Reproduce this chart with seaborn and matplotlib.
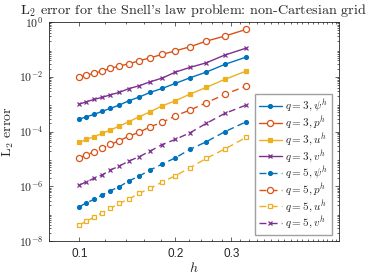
import matplotlib
matplotlib.use("Agg")
import matplotlib.pyplot as plt
import matplotlib.ticker as mticker
import numpy as np
import pandas as pd
import seaborn as sns

# grid sizes h = 2/n, n = 20 ... 6
h = [0.1, 0.10526, 0.11111, 0.11765, 0.125, 0.13333, 0.14286, 0.15385,
     0.16667, 0.18182, 0.2, 0.22222, 0.25, 0.28571, 0.33333]

# q = 3
psi3 = [2.86e-4, 3.48e-4, 4.25e-4, 5.47e-4, 7.03e-4, 9.29e-4, 1.33e-3, 1.82e-3,
        2.70e-3, 3.78e-3, 5.77e-3, 9.23e-3, 1.49e-2, 2.85e-2, 5.26e-2]
p3 = [1.00e-2, 1.16e-2, 1.34e-2, 1.62e-2, 2.04e-2, 2.47e-2, 3.00e-2, 3.85e-2,
      4.97e-2, 6.61e-2, 8.93e-2, 1.25e-1, 2.02e-1, 3.08e-1, 5.41e-1]
u3 = [4.03e-5, 5.19e-5, 6.46e-5, 8.59e-5, 1.135e-4, 1.59e-4, 2.28e-4, 3.48e-4,
      5.28e-4, 8.75e-4, 1.33e-3, 2.34e-3, 4.12e-3, 8.07e-3, 1.62e-2]
v3 = [1.01e-3, 1.23e-3, 1.50e-3, 1.77e-3, 2.21e-3, 2.70e-3, 3.72e-3, 4.71e-3,
      6.59e-3, 9.0e-3, 1.49e-2, 2.21e-2, 3.26e-2, 6.24e-2, 1.12e-1]
# q = 5
psi5 = [1.79e-7, 2.51e-7, 3.33e-7, 4.79e-7, 6.87e-7, 9.64e-7, 1.56e-6, 2.37e-6,
        3.93e-6, 6.50e-6, 1.10e-5, 2.24e-5, 4.24e-5, 9.84e-5, 2.28e-4]
p5 = [1.10e-5, 1.39e-5, 1.83e-5, 2.43e-5, 3.40e-5, 4.61e-5, 6.85e-5, 9.35e-5,
      1.50e-4, 2.17e-4, 3.78e-4, 6.10e-4, 1.13e-3, 2.29e-3, 4.59e-3]
u5 = [3.84e-8, 5.38e-8, 7.35e-8, 1.08e-7, 1.56e-7, 2.38e-7, 3.42e-7, 5.52e-7,
      8.41e-7, 1.43e-6, 2.43e-6, 4.76e-6, 1.05e-5, 2.30e-5, 6.14e-5]
v5 = [1.11e-6, 1.47e-6, 1.95e-6, 2.58e-6, 3.93e-6, 5.50e-6, 8.36e-6, 1.20e-5,
      1.94e-5, 3.35e-5, 5.19e-5, 9.03e-5, 1.99e-4, 4.61e-4, 9.29e-4]

labels = [r"$q = 3, \psi^h$", r"$q = 3, p^h$", r"$q = 3, u^h$", r"$q = 3, v^h$",
          r"$q = 5, \psi^h$", r"$q = 5, p^h$", r"$q = 5, u^h$", r"$q = 5, v^h$"]
series = [psi3, p3, u3, v3, psi5, p5, u5, v5]

sns.set_style("ticks")
plt.rcParams["font.family"] = ["Liberation Sans", "DejaVu Sans"]
plt.rcParams["mathtext.fontset"] = "cm"

blue, orange, yellow, purple = "#0072BD", "#D95319", "#EDB120", "#7E2F8E"
cols = [blue, orange, yellow, purple] * 2
marks = ["o", "o", "s", "x"] * 2
faces = [blue, "white", yellow, purple, blue, "white", "white", purple]
sizes = [2.8, 4.4, 3.2, 3.4] * 2

fig = plt.figure(figsize=(3.74, 2.80), dpi=100)
ax = fig.add_axes([0.1297, 0.139, 0.7754, 0.782])

for i, (lab, err) in enumerate(zip(labels, series)):
    df = pd.DataFrame({"h": h, "err": err})
    ls = "-" if i < 4 else (0, (5, 3))
    sns.lineplot(data=df, x="h", y="err", ax=ax, color=cols[i], marker=marks[i],
                 markersize=sizes[i], markerfacecolor=faces[i],
                 markeredgecolor=cols[i], markeredgewidth=0.9, linewidth=1.0,
                 linestyle=ls, label=lab, sort=False)

ax.set_xscale("log")
ax.set_yscale("log")
ax.set_xlim(0.08, 0.65)
ax.set_ylim(1e-8, 1)

ax.xaxis.set_major_locator(mticker.FixedLocator([0.1, 0.2, 0.3]))
ax.xaxis.set_major_formatter(mticker.FixedFormatter(["0.1", "0.2", "0.3"]))
ax.xaxis.set_minor_locator(mticker.FixedLocator(np.arange(0.08, 0.651, 0.02)))
ax.xaxis.set_minor_formatter(mticker.NullFormatter())

ax.yaxis.set_major_locator(mticker.FixedLocator([1e-8, 1e-6, 1e-4, 1e-2, 1]))
ax.yaxis.set_major_formatter(mticker.FuncFormatter(
    lambda v, pos: r"$\mathsf{10^{%d}}$" % round(np.log10(v))))
ax.yaxis.set_minor_locator(mticker.LogLocator(base=10, subs=np.arange(2, 10), numticks=20))
ax.yaxis.set_minor_formatter(mticker.NullFormatter())

ax.tick_params(which="both", direction="in", top=True, right=True,
               colors="#262626", labelsize=8.5, width=0.5)
ax.tick_params(which="major", length=3)
ax.tick_params(which="minor", length=1.5)
ax.tick_params(axis="x", which="major", pad=5)
for s in ax.spines.values():
    s.set_color("#262626")
    s.set_linewidth(0.6)

ax.set_title("L$_2$ error for the Snell's law problem: non-Cartesian grid",
             family="cmr10", fontsize=10.2, pad=6)
ax.set_xlabel(r"$h$", fontsize=10, labelpad=1)
ax.set_ylabel("L$_2$ error", family="cmr10", fontsize=10, labelpad=2)

leg = ax.legend(loc="lower right", bbox_to_anchor=(0.978, 0.027), borderaxespad=0,
                fontsize=8, fancybox=False, edgecolor="#a0a0a0", framealpha=1,
                handlelength=2.1, handletextpad=0.3, labelspacing=0.05,
                borderpad=0.35)
leg.get_frame().set_linewidth(1.0)

fig.savefig("out.png", dpi=100)
